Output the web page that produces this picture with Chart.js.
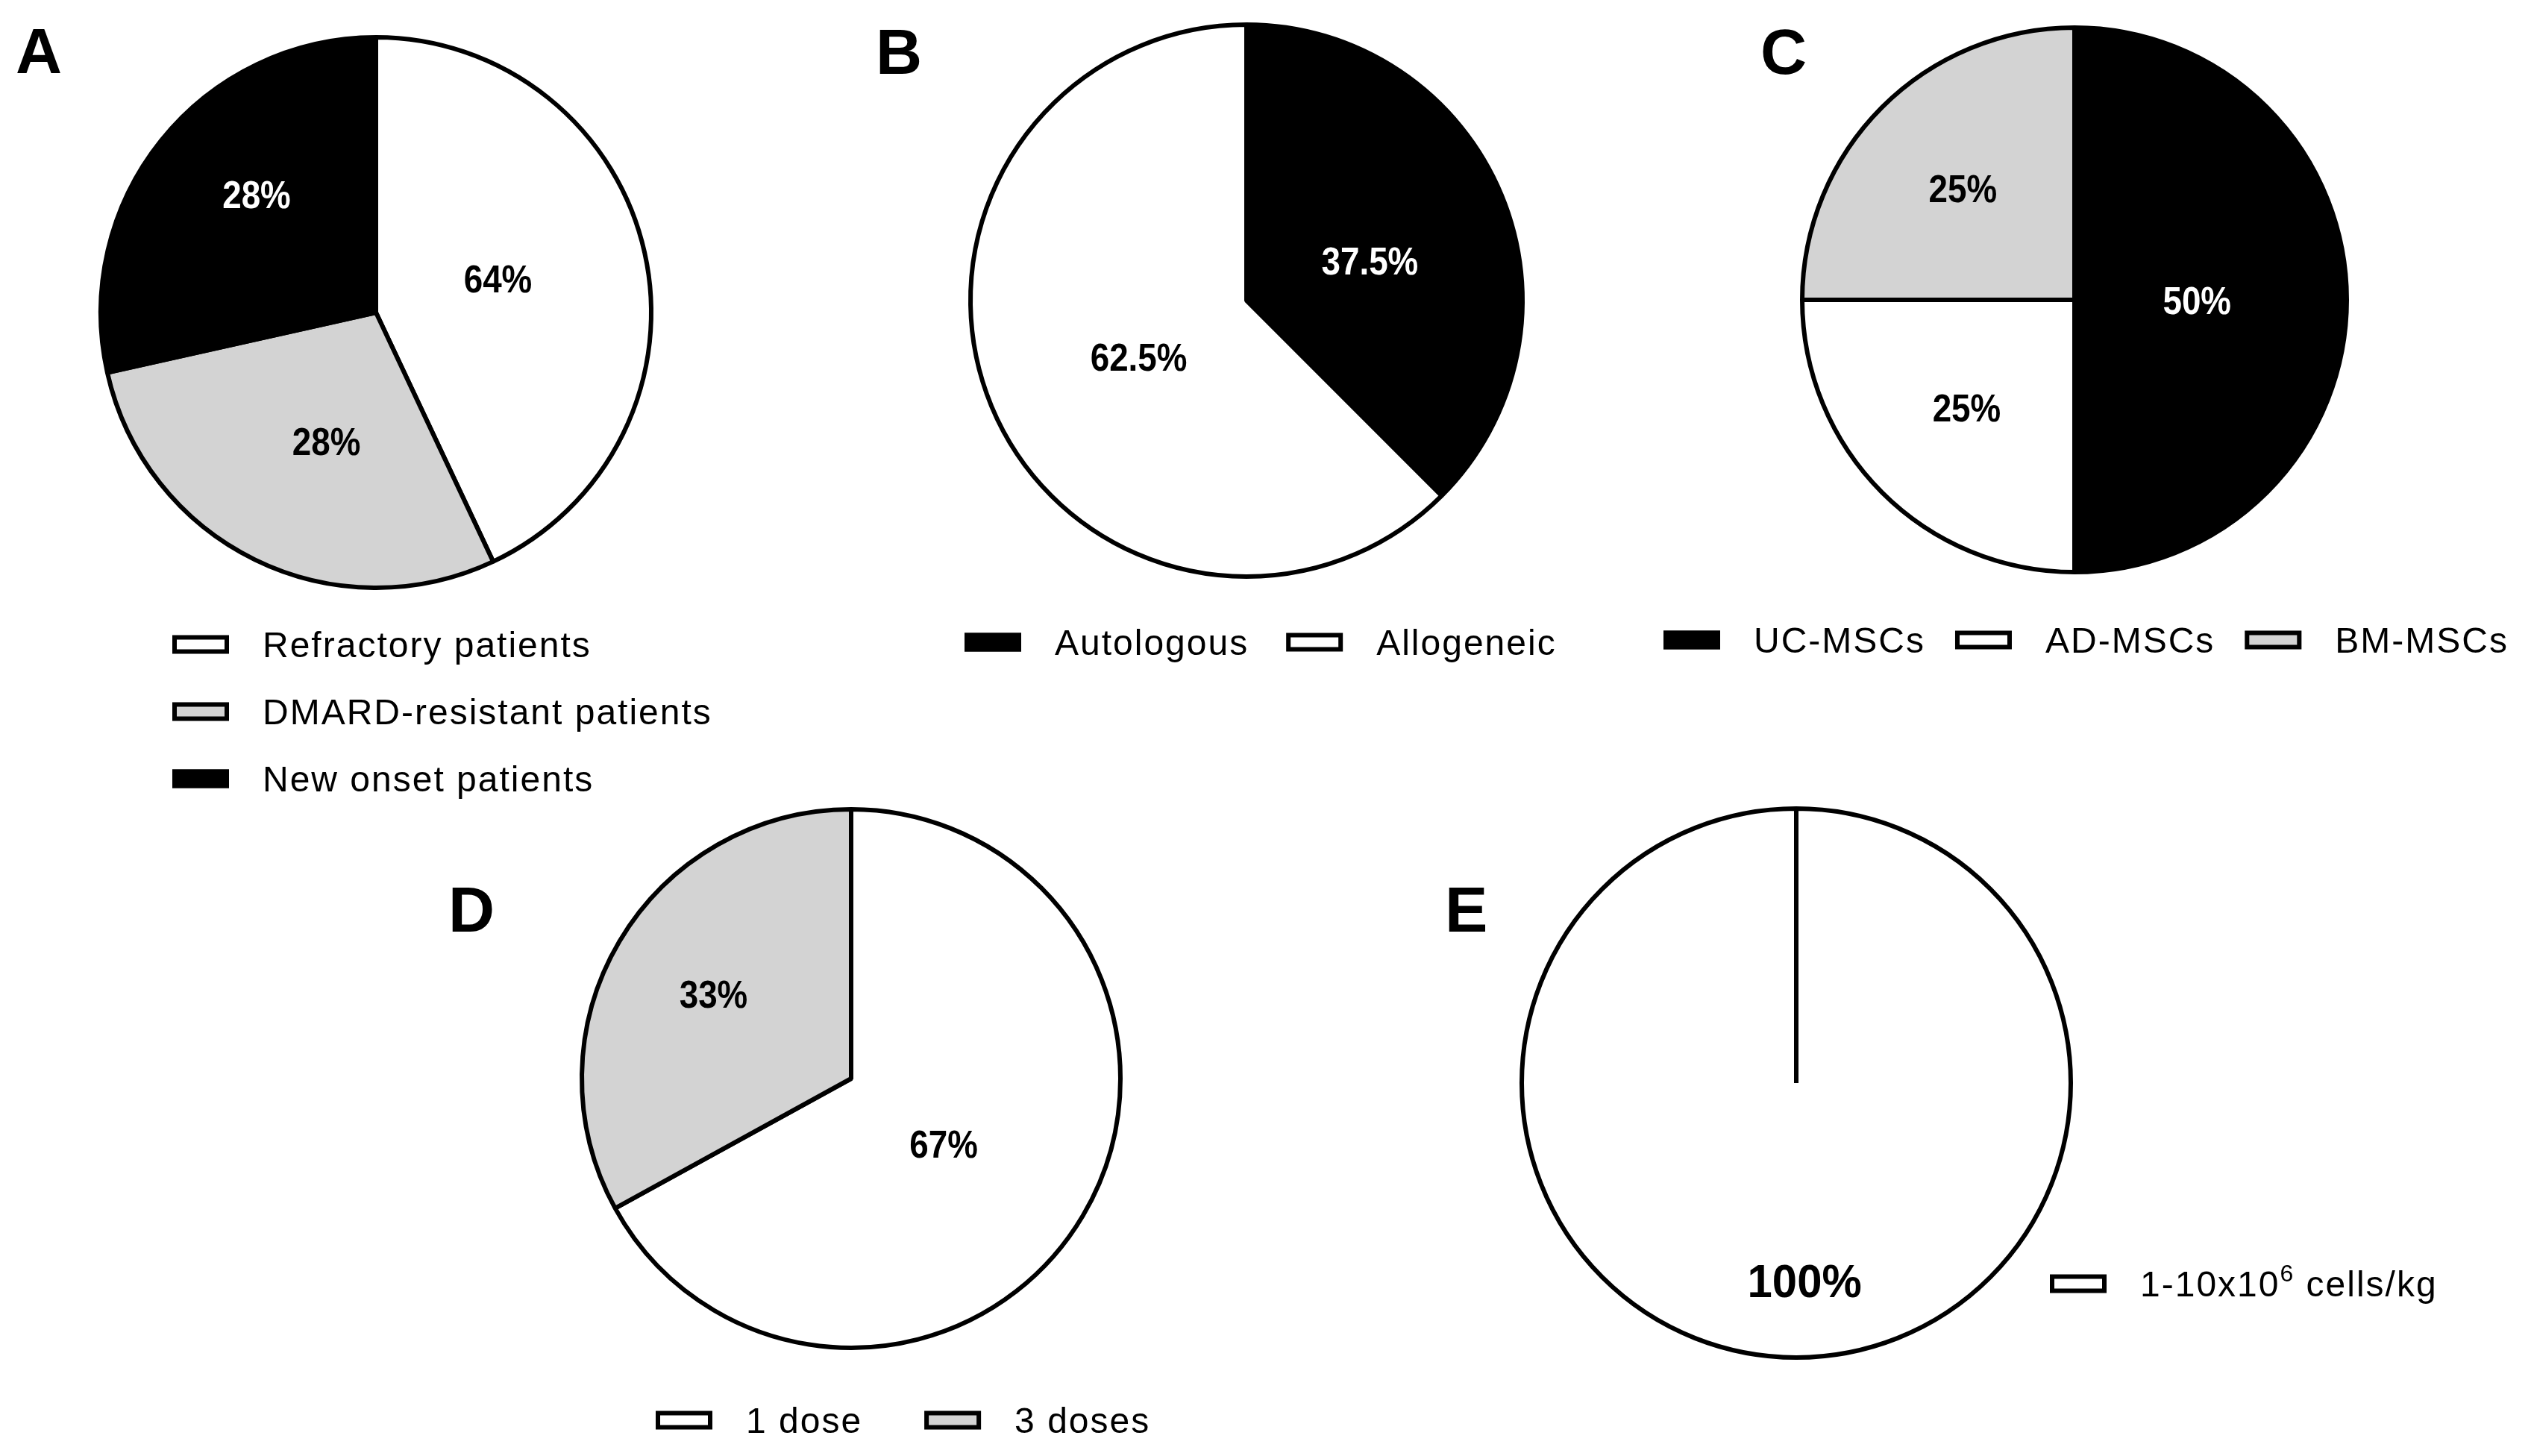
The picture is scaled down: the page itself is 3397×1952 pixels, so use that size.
<!DOCTYPE html>
<html>
<head>
<meta charset="utf-8">
<script src="https://cdn.jsdelivr.net/npm/chart.js@4.4.1/dist/chart.umd.min.js"></script>
<style>
  html, body { margin: 0; padding: 0; background: #fff; }
  body { width: 3397px; height: 1952px; position: relative; overflow: hidden; }
  canvas { position: absolute; left: 0; top: 0; width: 3397px; height: 1952px; }
</style>
</head>
<body>
<canvas id="pastel-a" width="3397" height="1952"></canvas>
<canvas id="pastel-b" width="3397" height="1952"></canvas>
<canvas id="pastel-c" width="3397" height="1952"></canvas>
<canvas id="pastel-d" width="3397" height="1952"></canvas>
<canvas id="pastel-e" width="3397" height="1952"></canvas>
<script>
// Datos de cada panel (sentido horario desde arriba)
const categoriasA = ["Refractory patients", "DMARD-resistant patients", "New onset patients"];
const valoresA = [43, 28.5, 28.5];
const etiquetasA = ["64%", "28%", "28%"];

const categoriasB = ["Autologous", "Allogeneic"];
const valoresB = [37.5, 62.5];
const etiquetasB = ["37.5%", "62.5%"];

const categoriasC = ["UC-MSCs", "AD-MSCs", "BM-MSCs"];
const valoresC = [50, 25, 25];
const etiquetasC = ["50%", "25%", "25%"];

const categoriasD = ["1 dose", "3 doses"];
const valoresD = [67, 33];
const etiquetasD = ["67%", "33%"];

const categoriasE = ["1-10x10⁶ cells/kg"];
const valoresE = [100];
const etiquetasE = ["100%"];

const BLANCO = "#ffffff", GRIS = "#d3d3d3", NEGRO = "#000000";
const W = 3397, H = 1952;
const FUENTE = '"Liberation Sans", Arial, sans-serif';

const SUPER = { "⁰": "0", "¹": "1", "²": "2", "³": "3", "⁴": "4", "⁵": "5", "⁶": "6", "⁷": "7", "⁸": "8", "⁹": "9" };

// Escribe texto con superíndices y devuelve el ancho
function escribir(ctx, texto, x, y) {
  const fuenteBase = ctx.font;
  const trozos = [];
  for (const ch of texto) {
    const esSup = ch in SUPER;
    const c = esSup ? SUPER[ch] : ch;
    const ult = trozos[trozos.length - 1];
    if (ult && ult.sup === esSup) ult.t += c;
    else trozos.push({ t: c, sup: esSup });
  }
  let px = x;
  trozos.forEach(tr => {
    ctx.font = tr.sup ? "32px " + FUENTE : fuenteBase;
    ctx.fillText(tr.t, px, tr.sup ? y - 20 : y);
    px += ctx.measureText(tr.t).width;
  });
  ctx.font = fuenteBase;
  return px - x;
}

function pluginPanel(cfg) {
  return {
    id: "panel",
    afterDraw(chart) {
      const ctx = chart.ctx;
      const meta = chart.getDatasetMeta(0);

      // Porcentajes dentro de las porciones
      meta.data.forEach((arco, i) => {
        const { x, y, startAngle, endAngle, outerRadius } =
          arco.getProps(["x", "y", "startAngle", "endAngle", "outerRadius"], true);
        const medio = (startAngle + endAngle) / 2 + cfg.giroEtiquetas[i] * Math.PI / 180;
        const d = outerRadius * cfg.radioEtiquetas[i];
        const px = x + Math.cos(medio) * d;
        const py = y + Math.sin(medio) * d;
        ctx.save();
        ctx.translate(px, py);
        ctx.scale(cfg.estrechar, 1);
        ctx.font = "bold " + cfg.tamEtiqueta + "px " + FUENTE;
        ctx.textAlign = "center";
        ctx.textBaseline = "alphabetic";
        ctx.fillStyle = cfg.colores[i] === NEGRO ? BLANCO : NEGRO;
        ctx.fillText(cfg.etiquetas[i], 0, cfg.tamEtiqueta * 0.358);
        ctx.restore();
      });

      // Leyenda
      const L = cfg.leyenda;
      ctx.save();
      ctx.font = "48px " + FUENTE;
      ctx.letterSpacing = "2px";
      ctx.textBaseline = "alphabetic";
      let lx = L.x, ly = L.y;
      cfg.categorias.forEach((cat, i) => {
        ctx.fillStyle = cfg.colores[i];
        ctx.fillRect(lx, ly - 12.5, 76, 25);
        ctx.lineWidth = 6;
        ctx.strokeStyle = NEGRO;
        ctx.strokeRect(lx + 3, ly - 9.5, 70, 19);
        ctx.fillStyle = NEGRO;
        const ancho = escribir(ctx, cat, lx + 121, ly + 17);
        if (L.vertical) ly += L.paso;
        else lx += 121 + ancho + L.paso;
      });
      ctx.restore();

      // Letra del panel
      ctx.save();
      ctx.font = "bold 86px " + FUENTE;
      ctx.fillStyle = NEGRO;
      ctx.textAlign = "left";
      ctx.textBaseline = "alphabetic";
      ctx.fillText(cfg.letra.t, cfg.letra.x, cfg.letra.y);
      ctx.restore();
    }
  };
}

function crearPastel(id, cfg) {
  const { cx, cy, r } = cfg.geo;
  return new Chart(document.getElementById(id), {
    type: "pie",
    data: {
      labels: cfg.categorias,
      datasets: [{
        data: cfg.valores,
        backgroundColor: cfg.colores,
        borderColor: NEGRO,
        borderWidth: 6,
        hoverBorderWidth: 6
      }]
    },
    options: {
      responsive: false,
      animation: false,
      devicePixelRatio: 1,
      events: [],
      layout: { padding: { left: cx - r, top: cy - r, right: W - cx - r, bottom: H - cy - r } },
      plugins: { legend: { display: false }, tooltip: { enabled: false } }
    },
    plugins: [pluginPanel(cfg)]
  });
}

crearPastel("pastel-a", {
  categorias: categoriasA, valores: valoresA, etiquetas: etiquetasA,
  colores: [BLANCO, GRIS, NEGRO],
  geo: { cx: 504, cy: 419, r: 372 },
  radioEtiquetas: [0.46, 0.5, 0.61], giroEtiquetas: [-3, -5, 6],
  tamEtiqueta: 52, estrechar: 0.88,
  leyenda: { x: 231, y: 864, vertical: true, paso: 90 },
  letra: { t: "A", x: 21, y: 98 }
});

crearPastel("pastel-b", {
  categorias: categoriasB, valores: valoresB, etiquetas: etiquetasB,
  colores: [NEGRO, BLANCO],
  geo: { cx: 1671, cy: 403, r: 373 },
  radioEtiquetas: [0.47, 0.44], giroEtiquetas: [4.5, -5],
  tamEtiqueta: 52, estrechar: 0.88,
  leyenda: { x: 1293, y: 861, vertical: false, paso: 50 },
  letra: { t: "B", x: 1174, y: 99 }
});

crearPastel("pastel-c", {
  categorias: categoriasC, valores: valoresC, etiquetas: etiquetasC,
  colores: [NEGRO, BLANCO, GRIS],
  geo: { cx: 2781, cy: 402, r: 368 },
  radioEtiquetas: [0.45, 0.56, 0.58], giroEtiquetas: [0, 0, 0],
  tamEtiqueta: 52, estrechar: 0.88,
  leyenda: { x: 2230, y: 858, vertical: false, paso: 40 },
  letra: { t: "C", x: 2360, y: 99 }
});

crearPastel("pastel-d", {
  categorias: categoriasD, valores: valoresD, etiquetas: etiquetasD,
  colores: [BLANCO, GRIS],
  geo: { cx: 1141, cy: 1446, r: 364 },
  radioEtiquetas: [0.42, 0.6], giroEtiquetas: [4.5, 1],
  tamEtiqueta: 52, estrechar: 0.88,
  leyenda: { x: 879, y: 1904, vertical: false, paso: 83 },
  letra: { t: "D", x: 601, y: 1249 }
});

crearPastel("pastel-e", {
  categorias: categoriasE, valores: valoresE, etiquetas: etiquetasE,
  colores: [BLANCO],
  geo: { cx: 2408, cy: 1452, r: 371 },
  radioEtiquetas: [0.72], giroEtiquetas: [-2.4],
  tamEtiqueta: 63, estrechar: 0.95,
  leyenda: { x: 2748, y: 1721, vertical: true, paso: 90 },
  letra: { t: "E", x: 1937, y: 1249 }
});
</script>
</body>
</html>
